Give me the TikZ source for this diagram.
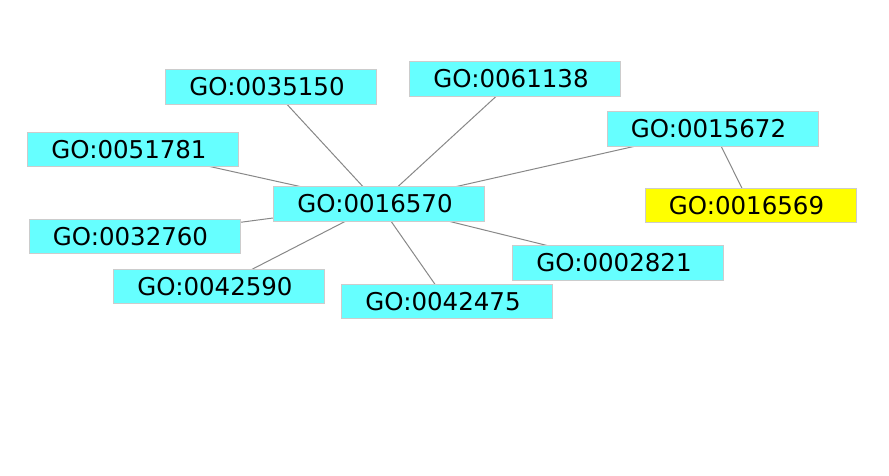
\documentclass[tikz,border=0pt]{standalone}
\usepackage{fontspec}
\setmainfont{DejaVu Sans}
\definecolor{termcyan}{RGB}{102,255,255}
\definecolor{termyellow}{RGB}{255,255,0}
\definecolor{termedge}{RGB}{204,204,204}
\definecolor{linkgray}{RGB}{136,136,136}
\tikzset{
  term/.style={draw=termedge, line width=0.8pt, fill=termcyan, rectangle,
    minimum width=211pt, minimum height=34.5pt, inner sep=0pt,
    font=\fontsize{24.5pt}{26pt}\selectfont},
  hit/.style={term, fill=termyellow},
  link/.style={draw=linkgray, line width=1pt}
}
\newcommand{\goid}[1]{\hspace*{-8pt}GO:#1}
\begin{document}
\begin{tikzpicture}[x=1pt,y=-1pt]
  \useasboundingbox (0,0) rectangle (889,475);
  % link endpoints are the node centres; boxes are drawn over the lines
  \coordinate (c0016570) at (379,204);
  \coordinate (c0035150) at (271,87);
  \coordinate (c0061138) at (515,79);
  \coordinate (c0015672) at (712.5,128.7);
  \coordinate (c0016569) at (750.5,205.5);
  \coordinate (c0051781) at (133,149.5);
  \coordinate (c0032760) at (134.5,236.3);
  \coordinate (c0042590) at (219,286.3);
  \coordinate (c0042475) at (447,301.5);
  \coordinate (c0002821) at (618,263);

  \foreach \t in {0035150,0061138,0015672,0051781,0032760,0042590,0042475,0002821}
    \draw[link] (c0016570) -- (c\t);
  \draw[link] (c0015672) -- (c0016569);

  \node[term] (n0035150) at (c0035150) {\goid{0035150}};
  \node[term] (n0061138) at (c0061138) {\goid{0061138}};
  \node[term] (n0015672) at (c0015672) {\goid{0015672}};
  \node[term] (n0051781) at (c0051781) {\goid{0051781}};
  \node[term] (n0016570) at (c0016570) {\goid{0016570}};
  \node[hit]  (n0016569) at (c0016569) {\goid{0016569}};
  \node[term] (n0032760) at (c0032760) {\goid{0032760}};
  \node[term] (n0042590) at (c0042590) {\goid{0042590}};
  \node[term] (n0002821) at (c0002821) {\goid{0002821}};
  \node[term] (n0042475) at (c0042475) {\goid{0042475}};
\end{tikzpicture}
\end{document}
